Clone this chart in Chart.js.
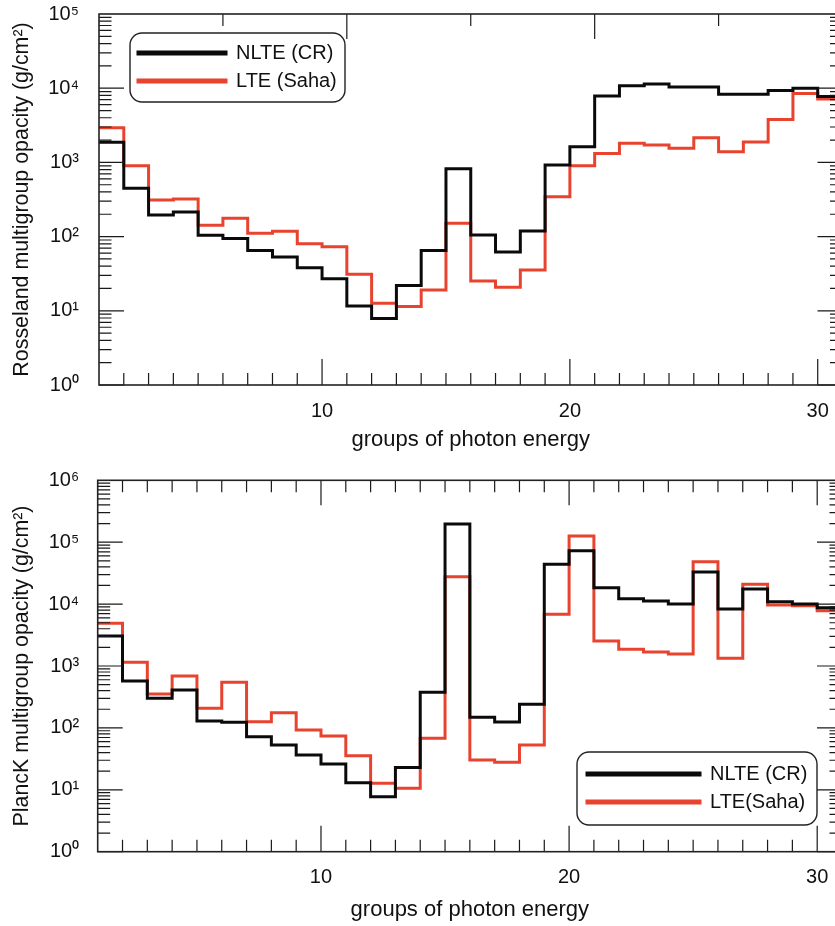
<!DOCTYPE html>
<html>
<head>
<meta charset="utf-8">
<script src="https://cdn.jsdelivr.net/npm/chart.js@4.4.1/dist/chart.umd.min.js"></script>
<style>
html, body { margin: 0; padding: 0; background: #fff; overflow: hidden; }
body { width: 835px; height: 926px; position: relative; }
.panel { position: absolute; left: 0; width: 860px; }
#top { top: 0; height: 460px; }
#bottom { top: 460px; height: 466px; }
</style>
</head>
<body>
<div class="panel" id="top"><canvas id="rosseland"></canvas></div>
<div class="panel" id="bottom"><canvas id="planck"></canvas></div>
<script>
// groups of photon energy (each group spans [g, g+1])
var groups = [1, 2, 3, 4, 5, 6, 7, 8, 9, 10, 11, 12, 13, 14, 15,
              16, 17, 18, 19, 20, 21, 22, 23, 24, 25, 26, 27, 28, 29, 30];

// Rosseland multigroup opacity (g/cm2)
var rossNLTE = [1870, 447, 195, 215, 104, 94, 65, 53, 38, 27, 11.6, 7.9, 22, 65, 820,
                105, 62, 119, 920, 1620, 7850, 10800, 11400, 10400, 10400, 8300, 8300, 9300, 10000, 7700];
var rossLTE  = [2940, 900, 311, 321, 142, 177, 111, 118, 80, 73, 31, 12.6, 11.4, 19.1, 151,
                25.3, 20.7, 35.5, 345, 900, 1320, 1810, 1720, 1550, 2150, 1390, 1880, 3800, 8500, 7150];

// Planck multigroup opacity (g/cm2)
var planckNLTE = [3050, 573, 301, 410, 129, 123, 72, 53, 36.5, 26, 13, 7.7, 23, 376, 197000,
                  148, 124, 240, 44000, 73000, 18400, 12200, 11200, 10000, 33000, 8340, 17500, 10950, 10000, 8750];
var planckLTE  = [4900, 1150, 353, 689, 207, 545, 126, 176, 92.5, 74, 35.6, 12.7, 10.6, 68, 27700,
                  30.3, 27.8, 53, 6840, 126000, 2530, 1860, 1680, 1560, 48400, 1330, 20900, 9670, 9420, 7830];

// tick labels
var xLabelTicks = [10, 20, 30];
var rossDecades = [1, 10, 100, 1000, 10000, 100000];
var planckDecades = [1, 10, 100, 1000, 10000, 100000, 1000000];

var BLACK = '#0a0a0a';
var RED = '#e8432f';
var FONT = "'Liberation Sans', Arial, Helvetica, sans-serif";
var SUP = ['\u2070', '\u00b9', '\u00b2', '\u00b3', '\u2074', '\u2075', '\u2076', '\u2077', '\u2078', '\u2079'];

function decadeLabel(v) {
    var e = Math.round(Math.log10(v));
    return '10' + SUP[e];
}

function steps(values) {
    var pts = groups.map(function (g, i) { return { x: g, y: values[i] }; });
    pts.push({ x: groups[groups.length - 1] + 1, y: values[values.length - 1] });
    return pts;
}

function noPad(s) {
    s.paddingTop = 0; s.paddingBottom = 0; s.paddingLeft = 0; s.paddingRight = 0;
}

// inward tick marks, frame and legend box
var axisMarks = {
    id: 'axisMarks',
    afterLayout: function (chart, args, o) {
        var lg = chart.legend;
        if (!lg) return;
        var p = 8;
        lg.left = o.legendX - p;
        lg.top = o.legendY - 10 - p;
        lg.right = lg.left + 400;
        lg.bottom = lg.top + 120;
    },
    afterDatasetsDraw: function (chart, args, o) {
        var ctx = chart.ctx, a = chart.chartArea, x = chart.scales.x, y = chart.scales.y;
        ctx.save();
        ctx.strokeStyle = '#1a1a1a';
        ctx.lineWidth = 1.2;
        ctx.beginPath();
        for (var e = 0; e < o.decades; e++) {
            for (var m = 1; m < 10; m++) {
                var py = y.getPixelForValue(m * Math.pow(10, e));
                var len = m === 1 ? 25 : 12.5;
                ctx.moveTo(a.left, py); ctx.lineTo(a.left + len, py);
                ctx.moveTo(a.right, py); ctx.lineTo(a.right - len, py);
            }
        }
        for (var g = 2; g <= 30; g++) {
            var px = x.getPixelForValue(g);
            var l = xLabelTicks.indexOf(g) >= 0 ? 26 : 12;
            ctx.moveTo(px, a.bottom); ctx.lineTo(px, a.bottom - l);
        }
        o.topTicks.forEach(function (t) {
            var px = x.getPixelForValue(t);
            var l = o.topLong.indexOf(t) >= 0 ? 25 : 12;
            ctx.moveTo(px, a.top); ctx.lineTo(px, a.top + l);
        });
        ctx.stroke();
        ctx.lineWidth = 1.6;
        ctx.strokeStyle = '#222';
        ctx.strokeRect(a.left, a.top, a.right - a.left, a.bottom - a.top);
        var b = o.box;
        ctx.lineWidth = 1.4;
        ctx.beginPath();
        ctx.roundRect(b[0], b[1], b[2], b[3], 12);
        ctx.stroke();
        ctx.restore();
    }
};

function makeChart(id, cfg) {
    var textColor = '#111';
    return new Chart(document.getElementById(id), {
        type: 'line',
        data: {
            datasets: [
                {
                    label: cfg.labels[0],
                    data: steps(cfg.nlte),
                    borderColor: BLACK,
                    backgroundColor: BLACK
                },
                {
                    label: cfg.labels[1],
                    data: steps(cfg.lte),
                    borderColor: RED,
                    backgroundColor: RED
                }
            ]
        },
        plugins: [axisMarks],
        options: {
            responsive: true,
            maintainAspectRatio: false,
            animation: false,
            layout: { padding: cfg.padding },
            elements: {
                point: { radius: 0 },
                line: { borderWidth: 3, stepped: true, borderJoinStyle: 'miter', borderCapStyle: 'butt', fill: false }
            },
            scales: {
                x: {
                    type: 'linear', min: 1, max: 31,
                    grid: { display: false },
                    border: { display: false },
                    afterBuildTicks: function (s) { s.ticks = xLabelTicks.map(function (v) { return { value: v }; }); },
                    afterFit: function (s) { s.height = cfg.xHeight; noPad(s); },
                    ticks: { color: textColor, font: { family: FONT, size: 20 }, padding: 6, maxRotation: 0, autoSkip: false },
                    title: {
                        display: true, text: 'groups of photon energy', color: textColor,
                        font: { family: FONT, size: 22 }, padding: { top: 0, bottom: cfg.xTitlePad }
                    }
                },
                y: {
                    type: 'logarithmic', min: 1, max: cfg.yMax,
                    grid: { display: false, drawTicks: false },
                    border: { display: false },
                    afterBuildTicks: function (s) { s.ticks = cfg.decades.map(function (v) { return { value: v }; }); },
                    afterFit: function (s) { s.width = cfg.yWidth; noPad(s); },
                    ticks: { color: textColor, font: { family: FONT, size: 20 }, padding: cfg.yTickPad, autoSkip: false,
                             callback: function (v) { return decadeLabel(v); } },
                    title: {
                        display: true, text: cfg.yTitle, color: textColor,
                        font: { family: FONT, size: 21.4 }, padding: { top: 9.5, bottom: 0 }
                    }
                }
            },
            plugins: {
                tooltip: { enabled: false },
                legend: {
                    position: 'chartArea',
                    align: 'start',
                    labels: {
                        boxWidth: cfg.legendLine, boxHeight: 2, padding: 8,
                        color: textColor, font: { family: FONT, size: 20 }, textAlign: 'left'
                    }
                },
                axisMarks: {
                    decades: cfg.decades.length - 1,
                    topTicks: cfg.topTicks,
                    topLong: cfg.topLong,
                    legendX: cfg.legendX,
                    legendY: cfg.legendY,
                    box: cfg.box
                }
            }
        }
    });
}

makeChart('rosseland', {
    nlte: rossNLTE, lte: rossLTE,
    labels: ['NLTE (CR)', 'LTE (Saha)'],
    yTitle: 'Rosseland multigroup opacity (g/cm\u00b2)',
    yMax: 100000, decades: rossDecades,
    padding: { left: 0, top: 14, right: 17.5, bottom: 0 },
    yWidth: 99, xHeight: 75, yTickPad: 20, xTitlePad: 7,
    topTicks: [6, 11, 16, 21, 26], topLong: [11, 21],
    legendX: 138, legendY: 53, legendLine: 88,
    box: [130, 33, 215, 69]
});

makeChart('planck', {
    nlte: planckNLTE, lte: planckLTE,
    labels: ['NLTE (CR)', 'LTE(Saha)'],
    yTitle: 'PlancK multigroup opacity (g/cm\u00b2)',
    yMax: 1000000, decades: planckDecades,
    padding: { left: 0, top: 20.3, right: 18, bottom: 0 },
    yWidth: 97.7, xHeight: 74.3, yTickPad: 18.5, xTitlePad: 3,
    topTicks: [2, 3, 4, 5, 6, 7, 8, 9, 10, 11, 12, 13, 14, 15, 16, 17, 18, 19, 20,
               21, 22, 23, 24, 25, 26, 27, 28, 29, 30],
    topLong: [10, 20, 30],
    legendX: 587, legendY: 314, legendLine: 113,
    box: [577, 292, 240, 73]
});
</script>
</body>
</html>
